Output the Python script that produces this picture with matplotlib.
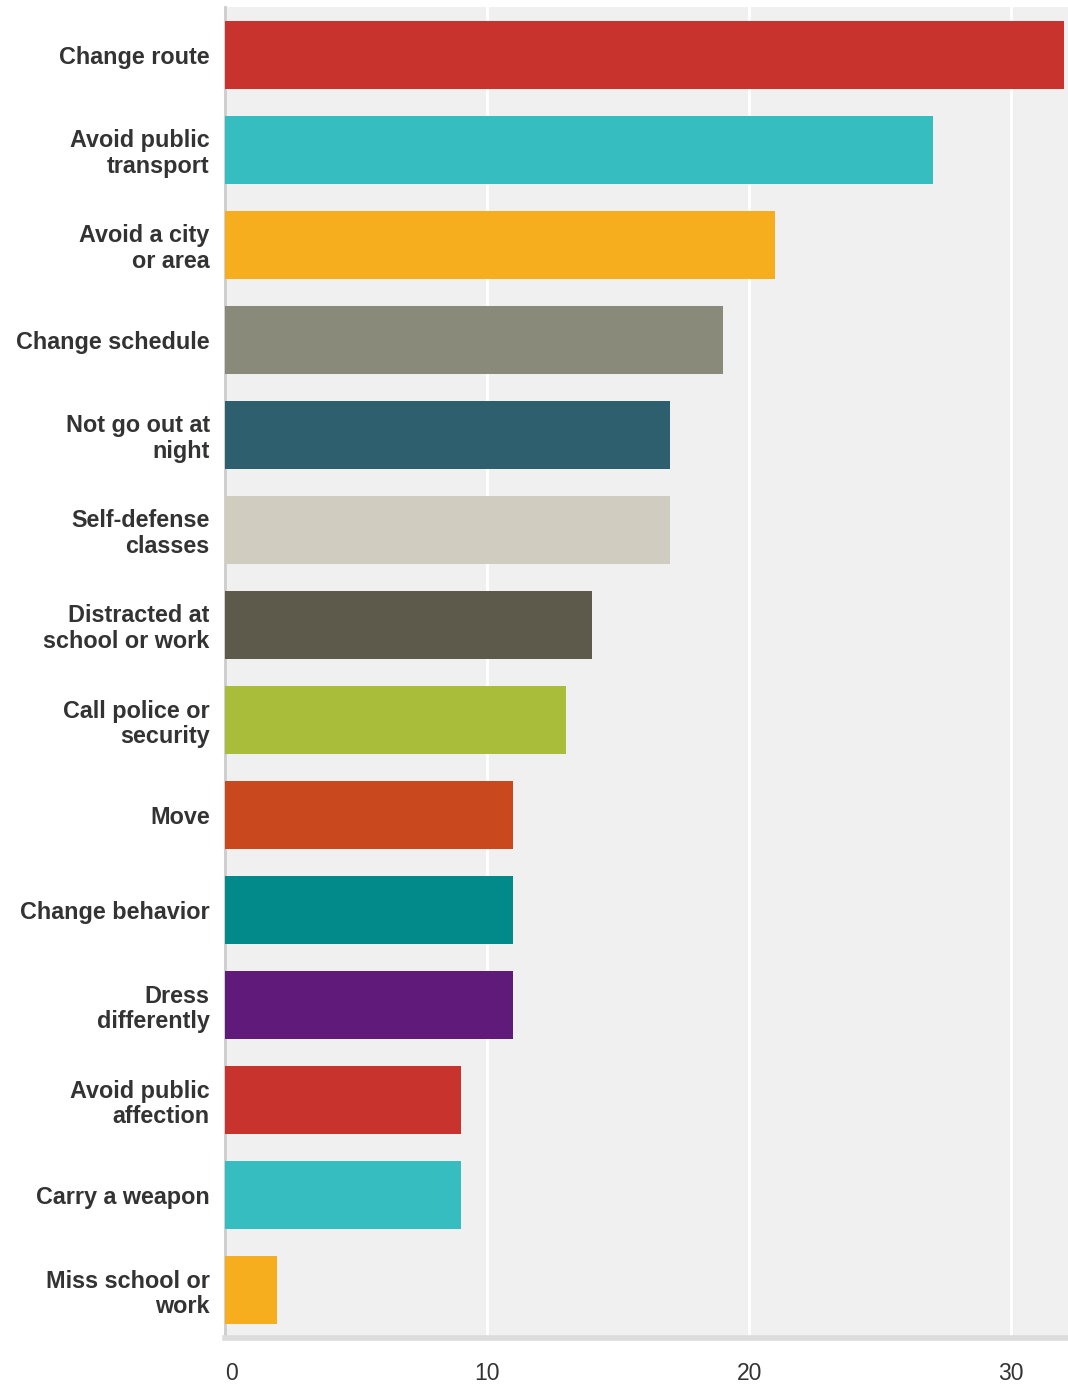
import matplotlib
matplotlib.use("Agg")
import matplotlib.pyplot as plt
from matplotlib import font_manager

categories = ["Change route", "Avoid public\ntransport", "Avoid a city\nor area",
              "Change schedule", "Not go out at\nnight", "Self-defense\nclasses",
              "Distracted at\nschool or work", "Call police or\nsecurity", "Move",
              "Change behavior", "Dress\ndifferently", "Avoid public\naffection",
              "Carry a weapon", "Miss school or\nwork"]
values = [32, 27, 21, 19, 17, 17, 14, 13, 11, 11, 11, 9, 9, 2]
colors = ["#c8342d", "#35bdbf", "#f6ae1f", "#8a8a7a", "#2e5f6e", "#d0cdc0",
          "#5d5a4b", "#a9bd3a", "#c9481d", "#028a8a", "#5f1a7a", "#c8342d",
          "#35bdbf", "#f6ae1f"]
xticks = [0, 10, 20, 30]
xtick_labels = ["0", "10", "20", "30"]

names = {f.name for f in font_manager.fontManager.ttflist}
narrow = "Liberation Sans Narrow" if "Liberation Sans Narrow" in names else "Liberation Sans"

fig = plt.figure(figsize=(10.68, 13.85), dpi=100)
ax = fig.add_axes([225/1068, 47/1385, 1 - 225/1068, 1331/1385])
ax.set_facecolor("#f0f0f0")

y = list(range(len(categories)))
ax.barh(y, values, height=0.715, color=colors, zorder=3)
ax.set_xlim(0, 32.17)
ax.set_ylim(len(categories) - 0.5, -0.5)

ax.set_xticks(xticks)
ax.set_xticklabels(xtick_labels, fontfamily=narrow, fontsize=16.5, color="#333333")
ax.get_xticklabels()[0].set_horizontalalignment("left")
ax.tick_params(axis="x", length=0, pad=17)
ax.xaxis.grid(True, color="white", linewidth=2, zorder=1)

ax.set_yticks(y)
ax.set_yticklabels(categories, fontfamily="Liberation Sans", fontweight="bold",
                   fontsize=16.8, color="#333333", linespacing=1.14)
ax.tick_params(axis="y", length=0, pad=11)

for s in ["top", "right"]:
    ax.spines[s].set_visible(False)
ax.spines["left"].set_color("#cccccc")
ax.spines["left"].set_linewidth(2)
ax.spines["bottom"].set_color("#dcdcdc")
ax.spines["bottom"].set_linewidth(4)

fig.savefig("out.png", dpi=100)
